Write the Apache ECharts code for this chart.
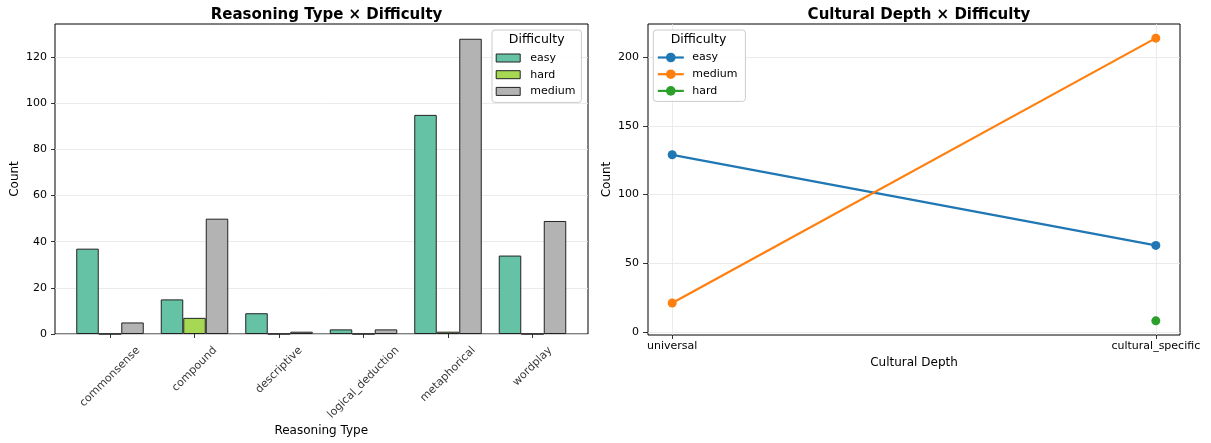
<!DOCTYPE html>
<html><head><meta charset="utf-8">
<script src="https://cdn.jsdelivr.net/npm/echarts@6/dist/echarts.min.js"></script>
<style>html,body{margin:0;padding:0;background:#fff}#c{width:1211px;height:443px}</style>
</head><body><div id="c"></div><script>
// ---------- data ----------
const reasoningTypes = ['commonsense','compound','descriptive','logical_deduction','metaphorical','wordplay'];
const easyCounts   = [37, 15, 9, 2, 95, 34];
const hardCounts   = [0, 7, 0, 0, 1, 0];
const mediumCounts = [5, 50, 1, 2, 128, 49];
const leftTicks = [0, 20, 40, 60, 80, 100, 120];

const depthCats   = ['universal', 'cultural_specific'];
const easyDepth   = [129, 63];
const mediumDepth = [21, 214];
const hardDepth   = [null, 8];
const rightTicks  = [0, 50, 100, 150, 200];

// ---------- helpers ----------
const FONT = 'DejaVu Sans';
const ctx = document.createElement('canvas').getContext('2d');
ctx.font = '11px "DejaVu Sans"';
// rotated tick label (matplotlib style: rotated bbox centred on the tick, top just under the axis)
// the label offset is applied in the rotated (45deg) text frame
function catLabelItem(name) {
  const w = ctx.measureText(name).width;
  const dy = 10 + (w + 13) * 0.3535;
  const k = dy * 0.70711;
  return { name: name, value: [name, 0], label: { offset: [-k, k] } };
}
const pts = (arr) => arr.map((v, i) => [i, v]).filter(d => d[1] != null);

const chart = echarts.init(document.getElementById('c'), null, { renderer: 'canvas' });
const axisTxt = { fontFamily: FONT, fontSize: 11, color: '#000' };
const gridLine = { show: true, lineStyle: { color: '#e6e6e6', width: 0.8 } };

const option = {
  animation: false,
  backgroundColor: '#fff',
  textStyle: { fontFamily: FONT },
  title: [
    { text: 'Reasoning Type × Difficulty', left: 321.5, top: 3, textAlign: 'center', z: 20,
      textStyle: { fontFamily: FONT, fontSize: 15, fontWeight: 'bold', color: '#000' } },
    { text: 'Cultural Depth × Difficulty', left: 914, top: 3, textAlign: 'center', z: 20,
      textStyle: { fontFamily: FONT, fontSize: 15, fontWeight: 'bold', color: '#000' } },
    { text: 'Difficulty', left: 536.7, top: 33, textAlign: 'center', padding: 0, z: 20,
      textStyle: { fontFamily: FONT, fontSize: 12.5, fontWeight: 'normal', color: '#000' } },
    { text: 'Difficulty', left: 698.5, top: 33, textAlign: 'center', padding: 0, z: 20,
      textStyle: { fontFamily: FONT, fontSize: 12.5, fontWeight: 'normal', color: '#000' } }
  ],
  legend: [
    { orient: 'vertical', left: 492, top: 30, padding: [22, 6, 5, 3.7],
      data: ['L-easy', 'L-hard', 'L-medium'], formatter: n => n.slice(2),
      itemWidth: 24, itemHeight: 8, itemGap: 4.7, icon: 'rect',
      itemStyle: { borderColor: '#222', borderWidth: 1 },
      borderColor: '#cccccc', borderWidth: 1, borderRadius: 3, backgroundColor: 'rgba(255,255,255,0.85)',
      textStyle: { fontFamily: FONT, fontSize: 11, color: '#000', lineHeight: 12, padding: [0, 0, 0, 5] },
      selectedMode: false, z: 10 },
    { orient: 'vertical', left: 653.3, top: 30, padding: [21.5, 8, 4.5, 3.4],
      data: ['R-easy', 'R-medium', 'R-hard'], formatter: n => n.slice(2),
      itemWidth: 26, itemHeight: 12, itemGap: 4.7,
      lineStyle: { width: 2.2 },
      borderColor: '#cccccc', borderWidth: 1, borderRadius: 3, backgroundColor: 'rgba(255,255,255,0.85)',
      textStyle: { fontFamily: FONT, fontSize: 11, color: '#000', lineHeight: 12, padding: [0, 0, 0, 3.4] },
      selectedMode: false, z: 10 }
  ],
  grid: [
    { left: 55, top: 24, width: 533, height: 310, show: true, borderColor: '#000', borderWidth: 1,
      backgroundColor: 'transparent', containLabel: false, outerBoundsMode: 'none' },
    { left: 67.75, top: 24, width: 507, height: 310, show: false, containLabel: false, outerBoundsMode: 'none' },
    { left: 648, top: 24, width: 532, height: 311, show: true, borderColor: '#000', borderWidth: 1,
      backgroundColor: 'transparent', containLabel: false, outerBoundsMode: 'none' }
  ],
  xAxis: [
    { gridIndex: 0, type: 'value', min: 0, max: 1, show: false },
    { gridIndex: 1, type: 'category', data: reasoningTypes,
      name: 'Reasoning Type', nameLocation: 'middle', nameGap: 91,
      nameTextStyle: { fontFamily: FONT, fontSize: 12, color: '#000' },
      axisLine: { show: false, onZero: false },
      axisTick: { show: true, alignWithLabel: true, interval: 0, length: 4, lineStyle: { color: '#000', width: 0.8 } },
      axisLabel: { show: false, interval: 0 },
      splitLine: { show: false } },
    { gridIndex: 2, type: 'value', min: -0.05, max: 1.05,
      name: 'Cultural Depth', nameLocation: 'middle', nameGap: 22,
      nameTextStyle: { fontFamily: FONT, fontSize: 12, color: '#000' },
      axisLine: { show: false, onZero: false },
      axisTick: { show: true, length: 4, customValues: [0, 1], lineStyle: { color: '#000', width: 0.8 } },
      axisLabel: Object.assign({ customValues: [0, 1], margin: 6, formatter: v => depthCats[Math.round(v)] }, axisTxt),
      splitLine: gridLine }
  ],
  yAxis: [
    { gridIndex: 0, type: 'value', min: 0, max: 134.4,
      name: 'Count', nameLocation: 'middle', nameGap: 34,
      nameTextStyle: { fontFamily: FONT, fontSize: 12, color: '#000' },
      axisLine: { show: false, onZero: false },
      axisTick: { show: true, length: 4, customValues: leftTicks, lineStyle: { color: '#000', width: 0.8 } },
      axisLabel: Object.assign({ customValues: leftTicks, margin: 8 }, axisTxt),
      splitLine: gridLine },
    { gridIndex: 1, type: 'value', min: 0, max: 134.4, show: false, splitLine: { show: false } },
    { gridIndex: 2, type: 'value', min: -2.3, max: 224.3,
      name: 'Count', nameLocation: 'middle', nameGap: 35,
      nameTextStyle: { fontFamily: FONT, fontSize: 12, color: '#000' },
      axisLine: { show: false, onZero: false },
      axisTick: { show: true, length: 5, customValues: rightTicks, lineStyle: { color: '#000', width: 0.8 } },
      axisLabel: Object.assign({ customValues: rightTicks, margin: 9 }, axisTxt),
      splitLine: gridLine }
  ],
  series: [
    { name: 'L-easy', type: 'bar', xAxisIndex: 1, yAxisIndex: 1, data: easyCounts,
      barWidth: 22.5, barGap: '0%', itemStyle: { color: '#66c2a5', borderColor: '#222', borderWidth: 1 } },
    { name: 'L-hard', type: 'bar', xAxisIndex: 1, yAxisIndex: 1, data: hardCounts,
      barWidth: 22.5, barGap: '0%', itemStyle: { color: '#a6d854', borderColor: '#222', borderWidth: 1 } },
    { name: 'L-medium', type: 'bar', xAxisIndex: 1, yAxisIndex: 1, data: mediumCounts,
      barWidth: 22.5, barGap: '0%', itemStyle: { color: '#b3b3b3', borderColor: '#222', borderWidth: 1 } },
    { name: 'tick-labels', type: 'scatter', xAxisIndex: 1, yAxisIndex: 1, silent: true, clip: false,
      symbolSize: 1, itemStyle: { color: 'rgba(0,0,0,0)' },
      data: reasoningTypes.map(catLabelItem),
      label: { show: true, position: 'inside', rotate: 45, align: 'center', verticalAlign: 'middle',
        formatter: p => p.name, fontFamily: FONT, fontSize: 11, color: '#000' },
      emphasis: { disabled: true }, z: 5 },
    { name: 'R-easy', type: 'line', xAxisIndex: 2, yAxisIndex: 2, data: pts(easyDepth),
      symbol: 'circle', symbolSize: 9, lineStyle: { color: '#1f77b4', width: 2.2 },
      itemStyle: { color: '#1f77b4' } },
    { name: 'R-medium', type: 'line', xAxisIndex: 2, yAxisIndex: 2, data: pts(mediumDepth),
      symbol: 'circle', symbolSize: 9, lineStyle: { color: '#ff7f0e', width: 2.2 },
      itemStyle: { color: '#ff7f0e' } },
    { name: 'R-hard', type: 'line', xAxisIndex: 2, yAxisIndex: 2, data: pts(hardDepth),
      symbol: 'circle', symbolSize: 9, lineStyle: { color: '#2ca02c', width: 2.2 },
      itemStyle: { color: '#2ca02c' } }
  ]
};
chart.setOption(option);
</script></body></html>
